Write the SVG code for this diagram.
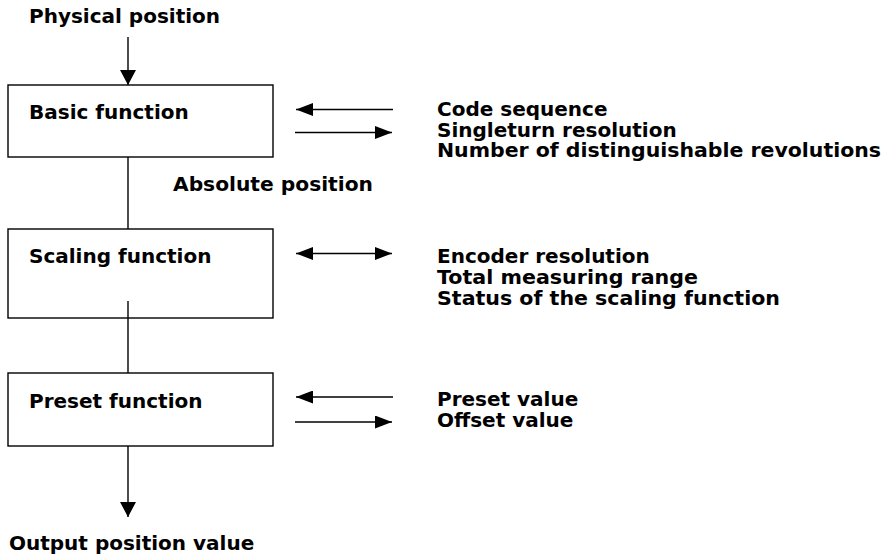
<svg xmlns="http://www.w3.org/2000/svg" width="885" height="557" viewBox="0 0 885 557">
<style>
text{font-family:"DejaVu Sans","Liberation Sans",sans-serif;font-weight:bold;font-size:20px;fill:#000}
.box{fill:#fff;stroke:#000;stroke-width:1.4}
.ln{stroke:#000;stroke-width:1.4;fill:none}
</style>
<defs>
<marker id="ah" viewBox="0 0 17 13" refX="17" refY="6.5" markerWidth="17" markerHeight="13" markerUnits="userSpaceOnUse" orient="auto-start-reverse">
<path d="M0,0 L17,6.5 L0,13 Z" fill="#000"/>
</marker>
<marker id="av" viewBox="0 0 15 16" refX="15" refY="8" markerWidth="15" markerHeight="16" markerUnits="userSpaceOnUse" orient="auto">
<path d="M0,0 L15,8 L0,16 Z" fill="#000"/>
</marker>
</defs>
<rect width="885" height="557" fill="#fff"/>
<text id="lbl-physical" x="29" y="23">Physical position</text>
<text id="lbl-absolute" x="173" y="191" textLength="200" lengthAdjust="spacingAndGlyphs">Absolute position</text>
<text id="lbl-output" x="9" y="550">Output position value</text>
<g id="connectors">
<line class="ln" x1="128" y1="37" x2="128" y2="85" marker-end="url(#av)"/>
<line class="ln" x1="128" y1="157" x2="128" y2="229"/>
<line class="ln" x1="128" y1="301" x2="128" y2="373"/>
<line class="ln" x1="128" y1="446" x2="128" y2="517" marker-end="url(#av)"/>
<line class="ln" x1="393" y1="109.5" x2="296" y2="109.5" marker-end="url(#ah)"/>
<line class="ln" x1="295" y1="132.5" x2="392" y2="132.5" marker-end="url(#ah)"/>
<line class="ln" x1="296" y1="253.5" x2="392" y2="253.5" marker-start="url(#ah)" marker-end="url(#ah)"/>
<line class="ln" x1="393" y1="397" x2="296" y2="397" marker-end="url(#ah)"/>
<line class="ln" x1="295" y1="422" x2="392" y2="422" marker-end="url(#ah)"/>
</g>
<g id="basic">
<rect class="box" x="8" y="85" width="265" height="72"/>
<text x="29" y="119">Basic function</text>
<text x="437" y="116">Code sequence</text>
<text x="437" y="136.5">Singleturn resolution</text>
<text x="437" y="157" textLength="444" lengthAdjust="spacingAndGlyphs">Number of distinguishable revolutions</text>
</g>
<g id="scaling">
<rect class="box" x="8" y="229" width="265" height="89"/>
<line class="ln" x1="128" y1="301" x2="128" y2="318"/>
<text x="29" y="263">Scaling function</text>
<text x="437" y="263">Encoder resolution</text>
<text x="437" y="284" textLength="261" lengthAdjust="spacingAndGlyphs">Total measuring range</text>
<text x="437" y="305" textLength="343" lengthAdjust="spacingAndGlyphs">Status of the scaling function</text>
</g>
<g id="preset">
<rect class="box" x="8" y="373" width="265" height="73"/>
<text x="29" y="408">Preset function</text>
<text x="437" y="406">Preset value</text>
<text x="437" y="427">Offset value</text>
</g>
</svg>
